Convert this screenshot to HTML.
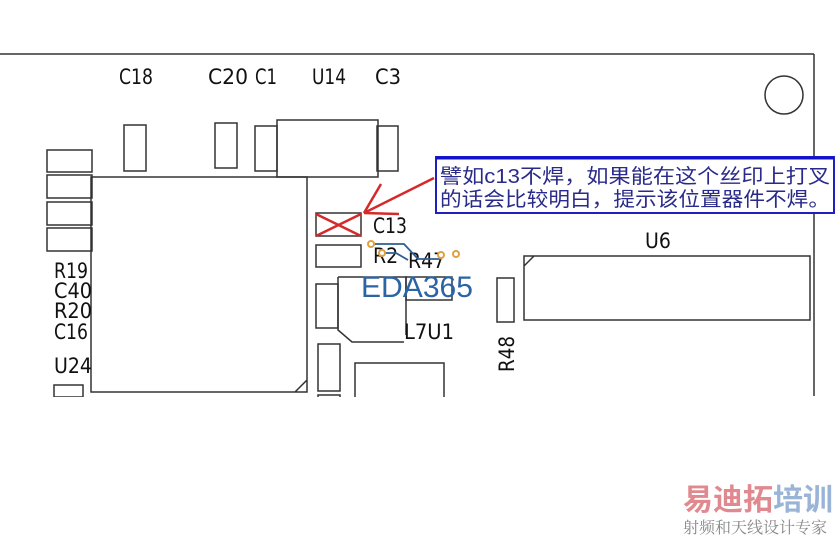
<!DOCTYPE html>
<html><head><meta charset="utf-8"><style>
html,body{margin:0;padding:0;background:#fff;width:838px;height:537px;overflow:hidden}
svg{display:block}
.l{font-family:"DejaVu Sans Condensed","Liberation Sans",sans-serif;font-size:21px;fill:#111}
</style></head><body>
<svg width="838" height="537" viewBox="0 0 838 537" xmlns="http://www.w3.org/2000/svg">
<g fill="none" stroke="#333" stroke-width="1.5">
<line x1="0" y1="54" x2="814" y2="54"/>
<line x1="814" y1="54" x2="814" y2="396"/>
<circle cx="784" cy="95" r="19"/>
<rect x="124" y="125" width="22" height="46"/>
<rect x="215" y="123" width="22" height="45"/>
<rect x="255" y="126" width="22" height="45"/>
<rect x="277" y="120" width="101" height="57"/>
<rect x="377" y="126" width="21" height="45"/>
<rect x="47" y="150" width="45" height="22"/>
<rect x="47" y="175" width="45" height="23"/>
<rect x="47" y="202" width="45" height="23"/>
<rect x="47" y="228" width="45" height="23"/>
<path d="M91 177 H307 V392 H91 Z M295 392 L307 380"/>
<rect x="54" y="385" width="29" height="12"/>
<rect x="316" y="213" width="45" height="23"/>
<rect x="316" y="245" width="45" height="22"/>
<rect x="316" y="284" width="22" height="44"/>
<path d="M338 277 H406 V335 M338 277 V330 L352 342 H404"/>
<rect x="406" y="277" width="46" height="23"/>
<rect x="318" y="344" width="22" height="47"/>
<rect x="318" y="395" width="22" height="6"/>
<rect x="355" y="363" width="89" height="40"/>
<rect x="497" y="278" width="17" height="44"/>
<path d="M524 256 H810 V320 H524 Z M524 266 L534 256"/>
</g>
<rect x="0" y="397" width="838" height="140" fill="#fff"/>
<g class="l">
<text class="l" x="119" y="84" textLength="34" lengthAdjust="spacingAndGlyphs">C18</text>
<text class="l" x="208" y="84" textLength="40" lengthAdjust="spacingAndGlyphs">C20</text>
<text class="l" x="255" y="84" textLength="22" lengthAdjust="spacingAndGlyphs">C1</text>
<text class="l" x="312" y="84" textLength="34" lengthAdjust="spacingAndGlyphs">U14</text>
<text class="l" x="375" y="84" textLength="26" lengthAdjust="spacingAndGlyphs">C3</text>
<text class="l" x="54" y="278" textLength="34" lengthAdjust="spacingAndGlyphs">R19</text>
<text class="l" x="54" y="298" textLength="38" lengthAdjust="spacingAndGlyphs">C40</text>
<text class="l" x="54" y="318" textLength="38" lengthAdjust="spacingAndGlyphs">R20</text>
<text class="l" x="54" y="339" textLength="34" lengthAdjust="spacingAndGlyphs">C16</text>
<text class="l" x="54" y="373" textLength="38" lengthAdjust="spacingAndGlyphs">U24</text>
<text class="l" x="373" y="233" textLength="34" lengthAdjust="spacingAndGlyphs">C13</text>
<text class="l" x="373" y="263">R2</text>
<text class="l" x="408" y="268">R47</text>
<text class="l" x="404" y="339" textLength="50" lengthAdjust="spacingAndGlyphs">L7U1</text>
<text class="l" x="645" y="248">U6</text>
<text class="l" transform="translate(514,372) rotate(-90)" textLength="36" lengthAdjust="spacingAndGlyphs">R48</text>
</g>
<g stroke="#d42a2a" stroke-width="2.5" fill="none">
<line x1="316" y1="214" x2="361" y2="236"/>
<line x1="316" y1="236" x2="361" y2="214"/>
<line x1="434" y1="178" x2="364" y2="213"/>
<line x1="364" y1="213" x2="381" y2="184"/>
<line x1="364" y1="213" x2="399" y2="214"/>
</g>
<g stroke="#2f5f90" stroke-width="1.8" fill="none">
<path d="M372 244 H404 L418 259 H441"/>
<path d="M382 253 H396 L408 260"/>
</g>
<g fill="#fff" stroke="#e0a040" stroke-width="2">
<circle cx="371" cy="244" r="3"/><circle cx="382" cy="253" r="3"/>
<circle cx="441" cy="255" r="3"/><circle cx="456" cy="254" r="3"/>
</g>
<text x="361" y="297" font-family="Liberation Sans,sans-serif" font-size="30" fill="#2a64a4" textLength="112" lengthAdjust="spacingAndGlyphs">EDA365</text>
<rect x="436" y="157" width="398" height="56" fill="#fff" stroke="#2020c0" stroke-width="2"/>
<line x1="436" y1="158" x2="834" y2="158" stroke="#1010d0" stroke-width="3"/>
<text x="440" y="183" font-family="Liberation Sans,'Noto Sans CJK SC',sans-serif" font-size="20" fill="#2a2a8a" textLength="390" lengthAdjust="spacingAndGlyphs">譬如c13不焊，如果能在这个丝印上打叉</text>
<text x="440" y="206" font-family="Liberation Sans,'Noto Sans CJK SC',sans-serif" font-size="20" fill="#2a2a8a" textLength="390" lengthAdjust="spacingAndGlyphs">的话会比较明白，提示该位置器件不焊。</text>
<text x="683" y="510" font-family="'Noto Sans CJK SC',sans-serif" font-size="30" font-weight="bold" fill="#e08a90">易迪拓<tspan fill="#9ab4d8">培训</tspan></text>
<text x="683" y="533" font-family="'Noto Serif CJK SC',serif" font-size="16" fill="#888">射频和天线设计专家</text>
</svg>
</body></html>
